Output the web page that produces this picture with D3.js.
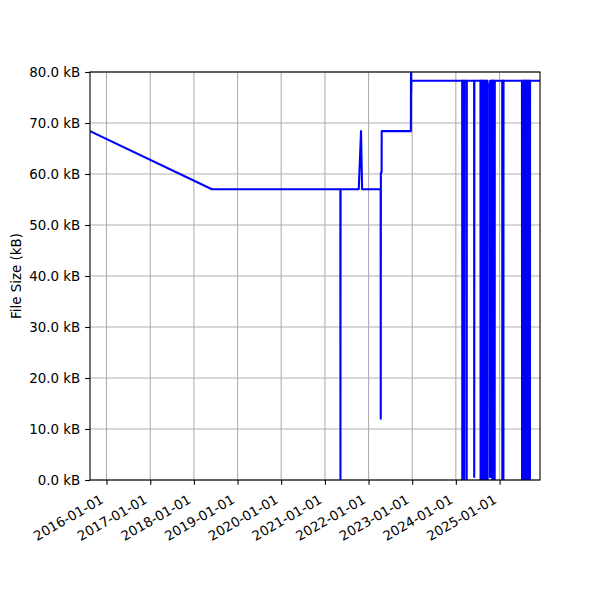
<!DOCTYPE html>
<html>
<head>
<meta charset="utf-8">
<script src="https://cdn.jsdelivr.net/npm/d3@7"></script>
<style>
  body { margin: 0; background: #fff; }
  text { font-family: "DejaVu Sans", sans-serif; fill: #000; }
</style>
</head>
<body>
<div id="chart"></div>
<script>
// file size history, one entry per sample (kB)
const dates = [
    '2015-08-16', '2018-06-01',
    '2021-05-10', '2021-05-11', '2021-05-12',
    '2021-10-11', '2021-10-30', '2021-11-08',
    '2022-04-12', '2022-04-13', '2022-04-14', '2022-04-20', '2022-04-21',
    '2022-12-21', '2022-12-22', '2022-12-23', '2022-12-24',
    '2024-02-23', '2024-02-24', '2024-02-25',
    '2024-03-02', '2024-03-03', '2024-03-04',
    '2024-03-11', '2024-03-12', '2024-03-13',
    '2024-03-31', '2024-04-01', '2024-04-02',
    '2024-06-02', '2024-06-03', '2024-06-04',
    '2024-07-25', '2024-07-26', '2024-07-27',
    '2024-08-02', '2024-08-03', '2024-08-04',
    '2024-08-11', '2024-08-12', '2024-08-13',
    '2024-08-25', '2024-08-26', '2024-08-27',
    '2024-09-05', '2024-09-06', '2024-09-07',
    '2024-09-13', '2024-09-14', '2024-09-15',
    '2024-09-22', '2024-09-23', '2024-09-24',
    '2024-09-28', '2024-10-12', '2024-10-13', '2024-10-14',
    '2024-10-22', '2024-10-23', '2024-10-24',
    '2024-11-01', '2024-11-02', '2024-11-03',
    '2024-11-11', '2024-11-12', '2024-11-13',
    '2024-11-20', '2024-11-21', '2024-11-22',
    '2025-01-23', '2025-01-24', '2025-01-25',
    '2025-02-01', '2025-02-02', '2025-02-03',
    '2025-07-07', '2025-07-08', '2025-07-09',
    '2025-07-15', '2025-07-16', '2025-07-17',
    '2025-07-24', '2025-07-25', '2025-07-26',
    '2025-08-01', '2025-08-02', '2025-08-03',
    '2025-08-09', '2025-08-10', '2025-08-11',
    '2025-08-18', '2025-08-19', '2025-08-20',
    '2025-08-26', '2025-08-27', '2025-08-28',
    '2025-09-03', '2025-09-04', '2025-09-05',
    '2025-09-11', '2025-09-12', '2025-09-13',
    '2025-12-05'
];
const sizes = [
    68.4, 57.0,
    57.0, 0, 57.0,
    57.0, 68.4, 57.0,
    57.0, 12.0, 60.3, 60.3, 68.4,
    68.4, 80.0, 76.1, 78.3,
    78.3, 0, 78.3,
    78.3, 0, 78.3,
    78.3, 0, 78.3,
    78.3, 0, 78.3,
    78.3, 0.6, 78.3,
    78.3, 0, 78.3,
    78.3, 0, 78.3,
    78.3, 0, 78.3,
    78.3, 0, 78.3,
    78.3, 0, 78.3,
    78.3, 0, 78.3,
    78.3, 0, 77.6,
    77.6, 77.6, 0.6, 78.3,
    78.3, 0.6, 78.3,
    78.3, 0, 78.3,
    78.3, 0, 78.3,
    78.3, 0, 78.3,
    78.3, 0, 78.3,
    78.3, 0, 78.3,
    78.3, 0, 78.3,
    78.3, 0, 78.3,
    78.3, 0, 78.3,
    78.3, 0, 78.3,
    78.3, 0, 78.3,
    78.3, 0, 78.3,
    78.3, 0, 78.3,
    78.3, 0, 78.3,
    78.3, 0, 78.3,
    78.3
];
const yTicks = [0, 10, 20, 30, 40, 50, 60, 70, 80];
const xTickYears = [2016, 2017, 2018, 2019, 2020, 2021, 2022, 2023, 2024, 2025];
const yLabel = 'File Size (kB)';

class FileSizeChart {
    constructor(_config, _dates, _sizes) {
        this.config = {
            parentElement: _config.parentElement,
            containerWidth: 600,
            containerHeight: 600,
            margin: {top: 72, right: 60, bottom: 120, left: 90},
            tickLength: 4.86,
            tickPad: 4.86,
            fontSize: 13.4
        };
        const parse = d3.utcParse('%Y-%m-%d');
        this.data = _dates.map((d, i) => ({date: parse(d), size: _sizes[i]}));
        this.initVis();
    }

    initVis() {
        let vis = this;
        const c = vis.config;

        vis.width = c.containerWidth - c.margin.left - c.margin.right;
        vis.height = c.containerHeight - c.margin.top - c.margin.bottom;

        vis.svg = d3.select(c.parentElement).append('svg')
            .attr('width', c.containerWidth)
            .attr('height', c.containerHeight);

        vis.chart = vis.svg.append('g')
            .attr('transform', `translate(${c.margin.left},${c.margin.top})`);

        vis.svg.append('defs').append('clipPath')
            .attr('id', 'plot-clip')
            .append('rect')
            .attr('width', vis.width)
            .attr('height', vis.height);

        vis.xScale = d3.scaleUtc()
            .domain(d3.extent(vis.data, d => d.date))
            .range([0, vis.width]);

        vis.yScale = d3.scaleLinear()
            .domain([0, 80])
            .range([vis.height, 0]);

        vis.renderVis();
    }

    renderVis() {
        let vis = this;
        const c = vis.config;
        const xTicks = xTickYears.map(y => new Date(Date.UTC(y, 0, 1)));
        const fmt = d3.utcFormat('%Y-%m-%d');

        // grid
        vis.chart.append('g').selectAll('line')
            .data(xTicks)
            .join('line')
            .attr('x1', d => vis.xScale(d)).attr('x2', d => vis.xScale(d))
            .attr('y1', 0).attr('y2', vis.height)
            .attr('stroke', '#b0b0b0').attr('stroke-width', 1.1);

        vis.chart.append('g').selectAll('line')
            .data(yTicks)
            .join('line')
            .attr('x1', 0).attr('x2', vis.width)
            .attr('y1', d => vis.yScale(d)).attr('y2', d => vis.yScale(d))
            .attr('stroke', '#b0b0b0').attr('stroke-width', 1.1);

        // series
        const line = d3.line()
            .x(d => vis.xScale(d.date))
            .y(d => vis.yScale(d.size));

        vis.chart.append('path')
            .datum(vis.data)
            .attr('clip-path', 'url(#plot-clip)')
            .attr('fill', 'none')
            .attr('stroke', '#0000ff')
            .attr('stroke-width', 2.08)
            .attr('stroke-linejoin', 'round')
            .attr('d', line);

        // y axis
        const yAxis = d3.axisLeft(vis.yScale)
            .tickValues(yTicks)
            .tickSize(c.tickLength)
            .tickPadding(c.tickPad)
            .tickFormat(d => d.toFixed(1) + ' kB');

        const yG = vis.chart.append('g').call(yAxis);
        yG.select('.domain').remove();
        yG.selectAll('line').attr('stroke-width', 1.1);
        yG.selectAll('text')
            .attr('font-size', c.fontSize)
            .attr('font-family', 'DejaVu Sans');

        // x axis
        const xAxis = d3.axisBottom(vis.xScale)
            .tickValues(xTicks)
            .tickSize(c.tickLength)
            .tickFormat(fmt);

        const xG = vis.chart.append('g')
            .attr('transform', `translate(0,${vis.height})`)
            .call(xAxis);
        xG.select('.domain').remove();
        xG.selectAll('line').attr('stroke-width', 1.1);
        xG.selectAll('text')
            .attr('font-size', c.fontSize)
            .attr('font-family', 'DejaVu Sans')
            .attr('text-anchor', 'end')
            .attr('x', 0).attr('y', 0).attr('dy', null)
            .attr('transform', `translate(-2.5,${c.tickLength + c.tickPad + 12.5}) rotate(-30)`);

        // frame
        vis.chart.append('rect')
            .attr('width', vis.width)
            .attr('height', vis.height)
            .attr('fill', 'none')
            .attr('stroke', '#000')
            .attr('stroke-width', 1.1);

        vis.svg.append('text')
            .attr('transform', `translate(21,${c.margin.top + vis.height / 2}) rotate(-90)`)
            .attr('text-anchor', 'middle')
            .attr('font-size', c.fontSize)
            .text(yLabel);
    }
}

new FileSizeChart({parentElement: '#chart'}, dates, sizes);
</script>
</body>
</html>
